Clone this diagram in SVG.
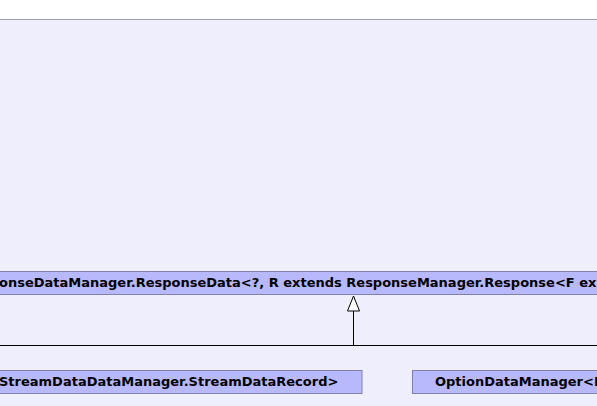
<svg xmlns="http://www.w3.org/2000/svg" width="597" height="406" viewBox="0 0 597 406">
<style>
.node rect{fill:#b8b8fc;stroke:#8080b0;stroke-width:1}
.node text{font-family:"DejaVu Sans",sans-serif;font-size:13px;font-weight:bold;fill:#000}
.conn{stroke:#000;stroke-width:1;fill:none}
</style>
<rect x="0" y="0" width="597" height="406" fill="#ffffff"/>
<rect x="0" y="20" width="597" height="386" fill="#eeeefc"/>
<line x1="0" y1="19.5" x2="597" y2="19.5" stroke="#a0a0a8" stroke-width="1"/>
<g id="connectors">
<line class="conn" x1="0" y1="345.5" x2="597" y2="345.5"/>
<line class="conn" x1="353.5" y1="345.5" x2="353.5" y2="311"/>
<polygon points="353.5,296 347.5,311 359.5,311" fill="#ffffff" stroke="#000" stroke-width="1"/>
</g>
<g id="node-responsedata" class="node">
<rect x="-10" y="271.5" width="620" height="23"/>
<text x="-1" y="287">onseDataManager.ResponseData&lt;?, R extends ResponseManager.Response&lt;F ex</text>
</g>
<g id="node-streamdata" class="node">
<rect x="-10" y="370.5" width="372" height="23"/>
<text x="-1" y="386">StreamDataDataManager.StreamDataRecord&gt;</text>
</g>
<g id="node-optiondata" class="node">
<rect x="412.5" y="370.5" width="200" height="23"/>
<text x="435" y="386">OptionDataManager&lt;P</text>
</g>
</svg>
